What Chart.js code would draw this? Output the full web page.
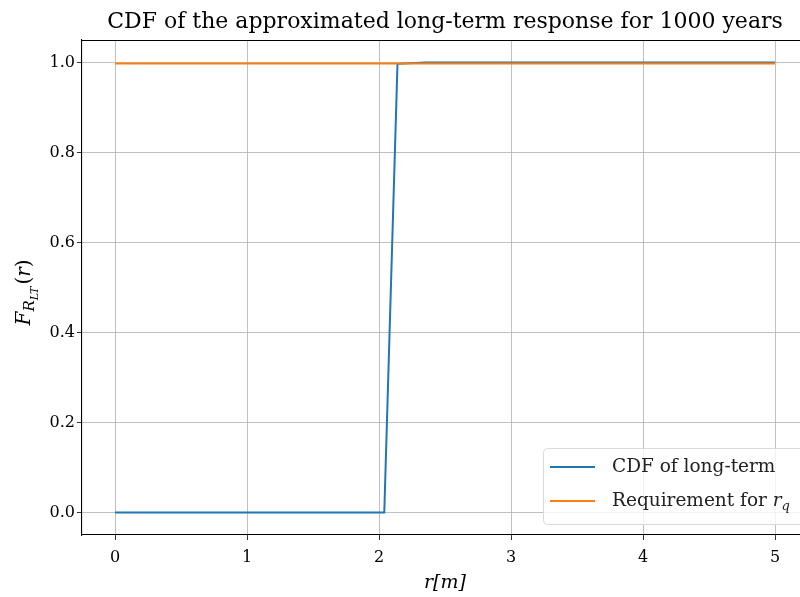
<!DOCTYPE html>
<html>
<head>
<meta charset="utf-8">
<script src="https://cdn.jsdelivr.net/npm/chart.js@4.4.0/dist/chart.umd.min.js"></script>
<style>
  html, body { margin: 0; padding: 0; overflow: hidden; background: #fff; }
  #wrap { width: 820px; height: 597px; }
</style>
</head>
<body>
<div id="wrap"><canvas id="cdfChart"></canvas></div>
<script>
// r [m] and CDF values
const cdfR = [0, 2.04, 2.14, 2.35, 5];
const cdfValues = [0, 0, 0.997, 1.0, 1.0];
const reqR = [0, 5];
const reqValues = [0.998, 0.998];

const xTicks = [0, 1, 2, 3, 4, 5];
const yTicks = [0.0, 0.2, 0.4, 0.6, 0.8, 1.0];

const titleText = 'CDF of the approximated long-term response for 1000 years';
const legendLabels = ['CDF of long-term', 'Requirement for '];
const SERIF = '"DejaVu Serif", "Liberation Serif", serif';

function toPoints(xs, ys) {
  return xs.map((x, i) => ({ x: x, y: ys[i] }));
}

const decorPlugin = {
  id: 'decor',
  afterDraw(chart) {
    const ctx = chart.ctx;
    const a = chart.chartArea;
    ctx.save();

    // top spine
    ctx.strokeStyle = '#000';
    ctx.lineWidth = 1.1;
    ctx.beginPath();
    ctx.moveTo(a.left, a.top + 0.5);
    ctx.lineTo(a.right, a.top + 0.5);
    ctx.stroke();

    const cx = (a.left + a.right) / 2;

    // title
    ctx.fillStyle = '#000';
    ctx.font = '22px ' + SERIF;
    ctx.textAlign = 'center';
    ctx.textBaseline = 'alphabetic';
    ctx.fillText(titleText, cx, 28);

    // x label r[m]
    ctx.font = 'italic 19px ' + SERIF;
    ctx.fillText('r[m]', cx, 588);

    // y label F_{R_{LT}}(r)
    ctx.translate(30, (a.top + a.bottom) / 2);
    ctx.rotate(-Math.PI / 2);
    ctx.textAlign = 'left';
    let x = -38;
    ctx.font = 'italic 20px ' + SERIF;
    ctx.fillText('F', x, 0); x += ctx.measureText('F').width;
    ctx.font = 'italic 15px ' + SERIF;
    ctx.fillText('R', x, 4); x += ctx.measureText('R').width;
    ctx.font = 'italic 11px ' + SERIF;
    ctx.fillText('LT', x, 8); x += ctx.measureText('LT').width + 2;
    ctx.font = '20px ' + SERIF;
    ctx.fillText('(', x, 0); x += ctx.measureText('(').width;
    ctx.font = 'italic 20px ' + SERIF;
    ctx.fillText('r', x, 0); x += ctx.measureText('r').width;
    ctx.font = '20px ' + SERIF;
    ctx.fillText(')', x, 0);
    ctx.restore();

    // legend, lower right
    ctx.save();
    const bx = 543, by = 448, bw = 268, bh = 76;
    ctx.fillStyle = 'rgba(255,255,255,0.8)';
    ctx.strokeStyle = '#d9d9d9';
    ctx.lineWidth = 1;
    ctx.beginPath();
    ctx.roundRect(bx + 0.5, by + 0.5, bw, bh, 4);
    ctx.fill();
    ctx.stroke();
    const colors = chart.data.datasets.map(d => d.borderColor);
    const rows = [467, 501];
    ctx.textBaseline = 'middle';
    ctx.textAlign = 'left';
    rows.forEach((ry, i) => {
      ctx.strokeStyle = colors[i];
      ctx.lineWidth = 2;
      ctx.beginPath();
      ctx.moveTo(550, ry);
      ctx.lineTo(595, ry);
      ctx.stroke();
      ctx.fillStyle = '#222';
      ctx.font = '18.5px ' + SERIF;
      ctx.fillText(legendLabels[i], 612, ry);
    });
    let lx = 612 + ctx.measureText(legendLabels[1]).width;
    ctx.font = 'italic 18.5px ' + SERIF;
    ctx.fillText('r', lx, rows[1]);
    lx += ctx.measureText('r').width;
    ctx.font = 'italic 13px ' + SERIF;
    ctx.fillText('q', lx, rows[1] + 6);
    ctx.restore();
  }
};

const tickFont = { family: SERIF, size: 16 };

new Chart(document.getElementById('cdfChart'), {
  type: 'line',
  data: {
    datasets: [
      {
        label: 'CDF of long-term',
        data: toPoints(cdfR, cdfValues),
        borderColor: '#1f77b4',
        borderWidth: 2,
        pointRadius: 0,
        tension: 0,
        fill: false,
        order: 1
      },
      {
        label: 'Requirement for r_q',
        data: toPoints(reqR, reqValues),
        borderColor: '#ff7f0e',
        borderWidth: 2,
        pointRadius: 0,
        tension: 0,
        fill: false,
        order: 0
      }
    ]
  },
  options: {
    responsive: true,
    maintainAspectRatio: false,
    animation: false,
    layout: { padding: { top: 40, right: 12, left: 0, bottom: 0 } },
    plugins: {
      legend: { display: false },
      title: { display: false },
      tooltip: { enabled: false }
    },
    scales: {
      x: {
        type: 'linear',
        min: -0.25,
        max: 5.25,
        afterBuildTicks: s => { s.ticks = xTicks.map(v => ({ value: v })); },
        afterFit: s => { s.height = 62; },
        ticks: { font: tickFont, color: '#000', padding: 8, maxRotation: 0,
                 callback: v => String(v) },
        grid: { color: '#b0b0b0', lineWidth: 0.8, tickColor: '#000', tickLength: 5, drawTicks: true },
        border: { color: '#000', width: 1.1 }
      },
      y: {
        type: 'linear',
        min: -0.05,
        max: 1.05,
        afterBuildTicks: s => { s.ticks = yTicks.map(v => ({ value: v })); },
        afterFit: s => { s.width = 82; },
        ticks: { font: tickFont, color: '#000', padding: 2,
                 callback: v => Number(v).toFixed(1) },
        grid: { color: '#b0b0b0', lineWidth: 0.8, tickColor: '#000', tickLength: 5, drawTicks: true },
        border: { color: '#000', width: 1.1 }
      }
    }
  },
  plugins: [decorPlugin]
});
</script>
</body>
</html>
